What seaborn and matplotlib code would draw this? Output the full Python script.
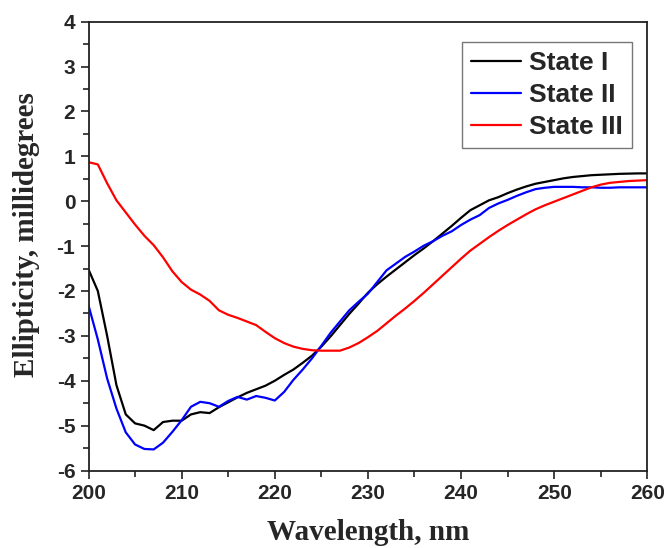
import numpy as np
import pandas as pd
import matplotlib
matplotlib.use("Agg")
import matplotlib.pyplot as plt
from matplotlib.ticker import MultipleLocator
import seaborn as sns

wavelength = list(range(200, 261))

state_1 = [-1.52, -2.0, -3.0, -4.1, -4.75, -4.95, -5.0, -5.1, -4.92, -4.89,
           -4.89, -4.75, -4.70, -4.72, -4.59, -4.48, -4.37, -4.27, -4.19, -4.11,
           -4.0, -3.87, -3.75, -3.60, -3.44, -3.24, -3.01, -2.76, -2.51, -2.28,
           -2.04, -1.85, -1.68, -1.52, -1.36, -1.20, -1.05, -0.89, -0.72, -0.55,
           -0.37, -0.20, -0.09, 0.02, 0.09, 0.18, 0.26, 0.33, 0.39, 0.43,
           0.47, 0.51, 0.54, 0.56, 0.58, 0.59, 0.60, 0.61, 0.615, 0.62, 0.62]

state_2 = [-2.32, -3.08, -3.95, -4.62, -5.15, -5.42, -5.52, -5.53, -5.38, -5.14,
           -4.88, -4.58, -4.47, -4.50, -4.58, -4.45, -4.36, -4.42, -4.34, -4.38,
           -4.44, -4.25, -3.98, -3.75, -3.50, -3.22, -2.93, -2.68, -2.43, -2.24,
           -2.06, -1.80, -1.54, -1.39, -1.24, -1.12, -0.99, -0.89, -0.77, -0.67,
           -0.53, -0.41, -0.31, -0.15, -0.05, 0.03, 0.12, 0.20, 0.27, 0.30,
           0.32, 0.32, 0.32, 0.31, 0.31, 0.30, 0.30, 0.31, 0.31, 0.31, 0.31]

state_3 = [0.87, 0.82, 0.40, 0.02, -0.25, -0.52, -0.77, -0.98, -1.25, -1.56,
           -1.80, -1.97, -2.08, -2.22, -2.43, -2.53, -2.60, -2.68, -2.76, -2.91,
           -3.05, -3.16, -3.24, -3.29, -3.32, -3.33, -3.33, -3.33, -3.26, -3.16,
           -3.03, -2.89, -2.72, -2.55, -2.39, -2.22, -2.04, -1.85, -1.66, -1.47,
           -1.28, -1.10, -0.95, -0.80, -0.66, -0.53, -0.41, -0.29, -0.18, -0.09,
           -0.01, 0.07, 0.15, 0.23, 0.31, 0.37, 0.41, 0.43, 0.45, 0.46, 0.47]

labels = ["State I", "State II", "State III"]
colors = ["#000000", "#0000ff", "#ff0000"]

df = pd.concat([
    pd.DataFrame({"Wavelength": wavelength, "Ellipticity": vals, "State": lab})
    for vals, lab in zip([state_1, state_2, state_3], labels)
])

sns.set_style("ticks")
plt.rcParams["font.family"] = ["Liberation Sans", "DejaVu Sans"]
plt.rcParams["font.weight"] = "bold"
plt.rcParams["axes.unicode_minus"] = False

fig = plt.figure(figsize=(6.67, 5.48), dpi=100)
ax = fig.add_axes([0.1327, 0.1414, 0.8378, 0.819])

sns.lineplot(data=df, x="Wavelength", y="Ellipticity", hue="State",
             palette=colors, linewidth=1.6, sort=False, ax=ax)

ax.set_xlim(200, 260)
ax.set_ylim(-6, 4)
ax.xaxis.set_major_locator(MultipleLocator(10))
ax.xaxis.set_minor_locator(MultipleLocator(5))
ax.yaxis.set_major_locator(MultipleLocator(1))
ax.yaxis.set_minor_locator(MultipleLocator(0.5))
ax.tick_params(which="major", direction="out", length=6, width=1.2,
               labelsize=15, color="#222222")
ax.tick_params(which="minor", direction="out", length=4, width=1.2,
               color="#222222")
for lab in ax.get_xticklabels() + ax.get_yticklabels():
    lab.set_fontweight("bold")
for sp in ax.spines.values():
    sp.set_visible(True)
    sp.set_linewidth(1.3)
    sp.set_color("#222222")

ax.set_xlabel("Wavelength, nm", family="Liberation Serif", weight="bold",
              fontsize=21, labelpad=12)
ax.set_ylabel("Ellipticity, millidegrees", family="Liberation Serif",
              weight="bold", fontsize=21)
ax.yaxis.set_label_coords(-0.087, 0.525)

leg = ax.legend(loc="upper right", bbox_to_anchor=(0.9726, 0.9548),
                borderaxespad=0, fancybox=False, frameon=True,
                prop={"family": "Liberation Sans", "weight": "bold", "size": 19},
                labelspacing=0.3, handlelength=1.9, handletextpad=0.3,
                borderpad=0.35)
leg.get_frame().set_edgecolor("#555555")
leg.get_frame().set_linewidth(1.0)
for h in leg.get_lines():
    h.set_linewidth(1.6)

fig.savefig("out.png", dpi=100)
